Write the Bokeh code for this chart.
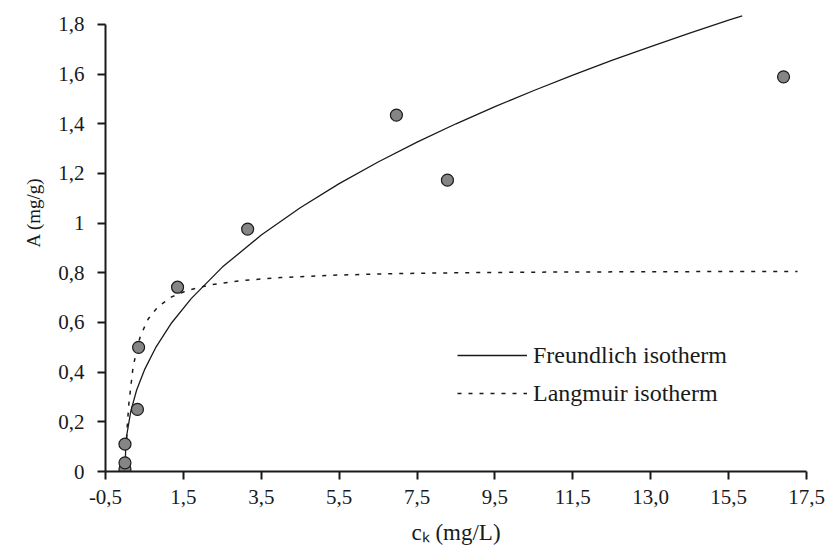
from bokeh.plotting import figure
from bokeh.models import Range1d, FixedTicker, Legend, LegendItem, Title
from bokeh.embed import file_html
from bokeh.resources import INLINE

# measured data points
ck = [0.0, 0.0, 0.0, 0.32, 0.35, 1.35, 3.15, 6.97, 8.28, 16.91]
A = [0.01, 0.035, 0.11, 0.25, 0.50, 0.742, 0.976, 1.435, 1.173, 1.589]

# Freundlich curve
fr_x = [0.0, 0.02, 0.05, 0.15, 0.3, 0.5, 0.8, 1.2, 1.7, 2.5, 3.5, 4.5, 5.5, 6.5,
        7.5, 8.5, 9.5, 10.5, 11.5, 12.5, 13.5, 14.5, 15.5, 15.85]
fr_y = [0.0, 0.10, 0.15, 0.243, 0.328, 0.409, 0.502, 0.599, 0.696, 0.823, 0.952,
        1.062, 1.159, 1.246, 1.326, 1.400, 1.469, 1.534, 1.596, 1.655, 1.711,
        1.765, 1.817, 1.834]

# Langmuir curve
la_x = [0.0, 0.05, 0.1, 0.2, 0.3, 0.4, 0.6, 0.85, 1.2, 1.6, 2.2, 3.0, 4.0, 5.5,
        7.0, 9.0, 11.0, 13.0, 15.0, 17.27]
la_y = [0.0, 0.164, 0.273, 0.41, 0.492, 0.547, 0.615, 0.664, 0.703, 0.729, 0.752,
        0.769, 0.781, 0.791, 0.797, 0.801, 0.803, 0.804, 0.805, 0.805]

x_ticks = [-0.5, 1.5, 3.5, 5.5, 7.5, 9.5, 11.5, 13.5, 15.5, 17.5]
x_labels = ["-0,5", "1,5", "3,5", "5,5", "7,5", "9,5", "11,5", "13,0", "15,5", "17,5"]
y_ticks = [0, 0.2, 0.4, 0.6, 0.8, 1, 1.2, 1.4, 1.6, 1.8]
y_labels = ["0", "0,2", "0,4", "0,6", "0,8", "1", "1,2", "1,4", "1,6", "1,8"]

FONT = "'Liberation Serif', 'Times New Roman', serif"
INK = "#1a1a1a"

W, H = 835, 547
L, R, T, B = 105, 29, 14, 76

p = figure(width=W, height=H, x_range=Range1d(-0.5, 17.5), y_range=Range1d(0, 1.84),
           output_backend="svg", toolbar_location=None,
           min_border_left=L, min_border_right=R, min_border_top=T, min_border_bottom=B)
p.outline_line_color = None
p.grid.visible = False
p.background_fill_color = "white"
p.border_fill_color = "white"

for ax in (p.xaxis[0], p.yaxis[0]):
    ax.axis_line_color = INK
    ax.axis_line_width = 2
    ax.major_tick_line_color = INK
    ax.major_tick_line_width = 2
    ax.major_tick_out = 8
    ax.major_tick_in = 0
    ax.minor_tick_line_color = None
    ax.major_label_text_font = FONT
    ax.major_label_text_font_size = "21px"
    ax.major_label_text_color = INK
    ax.axis_label_text_font = FONT
    ax.axis_label_text_font_style = "normal"
    ax.axis_label_text_color = INK

p.xaxis.ticker = FixedTicker(ticks=x_ticks)
p.xaxis.major_label_overrides = {v: s for v, s in zip(x_ticks, x_labels)}
p.xaxis.major_label_standoff = 10
p.xaxis.axis_label = "cₖ (mg/L)"
p.xaxis.axis_label_text_font_size = "23px"
p.xaxis.axis_label_standoff = 13

p.yaxis.ticker = FixedTicker(ticks=y_ticks)
p.yaxis.bounds = (0, 1.8)
p.yaxis.major_label_overrides = {v: s for v, s in zip(y_ticks, y_labels)}
p.yaxis.major_label_standoff = 13

p.add_layout(Title(text="A (mg/g)", align="left", offset=224, standoff=20,
                   vertical_align="top",
                   text_font=FONT, text_font_size="19px", text_font_style="normal",
                   text_color=INK), "left")

fr = p.line(fr_x, fr_y, line_color=INK, line_width=1.3)
la = p.line(la_x, la_y, line_color=INK, line_width=1.5, line_dash="4 7")
p.scatter(ck, A, size=12, marker="circle", fill_color="#858585", line_color=INK, line_width=1.2)

legend = Legend(items=[LegendItem(label="Freundlich isotherm", renderers=[fr]),
                       LegendItem(label="Langmuir isotherm", renderers=[la])],
                location=(352, 63), orientation="vertical",
                glyph_width=70, glyph_height=30, label_height=30, spacing=8,
                label_standoff=6, padding=0, margin=0,
                border_line_color=None, background_fill_alpha=0,
                label_text_font=FONT, label_text_font_size="24px",
                label_text_color=INK)
p.add_layout(legend, "center")

open("out.html", "w").write(file_html(p, INLINE))
